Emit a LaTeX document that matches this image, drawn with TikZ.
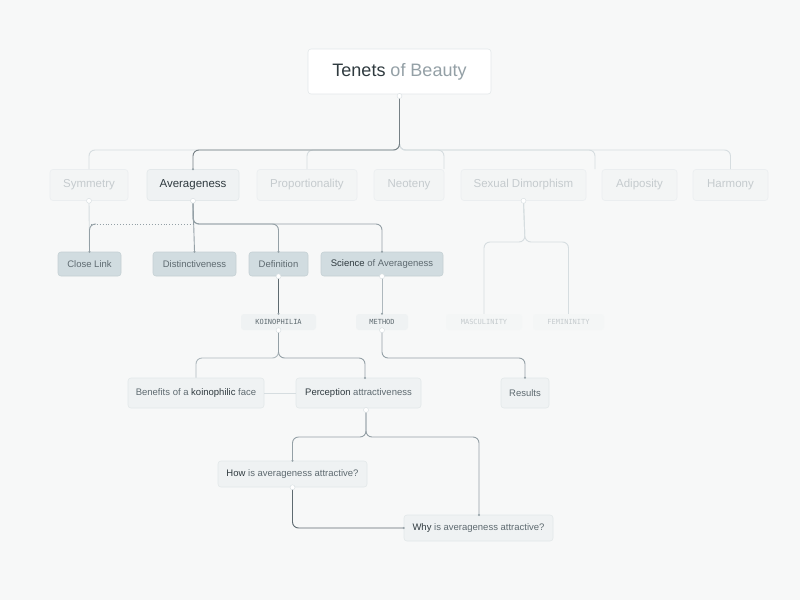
\documentclass[tikz,border=0pt]{standalone}
\usepackage{fontspec}
\setmainfont{Liberation Sans}
\newfontfamily\monof{DejaVu Sans Mono}
\begin{document}
\definecolor{bg}{HTML}{F7F8F8}
\definecolor{tx}{HTML}{2F3A3F}
\definecolor{ft}{HTML}{C5CBCE}
\definecolor{mid}{HTML}{5E6A70}
\definecolor{lnk}{HTML}{94A0A6}
\definecolor{lnl}{HTML}{D6DDE0}
\definecolor{nf}{HTML}{EFF2F3}
\definecolor{df}{HTML}{D1DCE0}
\definecolor{bd}{HTML}{E3E8EA}
\begin{tikzpicture}[x=1pt,y=-1pt,
 box/.style={draw=bd,line width=0.6pt,rounded corners=3pt,fill=nf,minimum height=31pt,inner xsep=0pt,font=\fontsize{11.5}{13}\selectfont,text=tx},
 fbox/.style={box,fill=bg!50!nf,draw=bd!60!bg,text=ft},
 dbox/.style={box,fill=df,draw=df!80!lnk,minimum height=24pt,font=\fontsize{9.5}{11}\selectfont,text=mid},
 tag/.style={rounded corners=3pt,fill=nf,minimum height=16pt,inner xsep=0pt,font=\monof\fontsize{7}{8}\selectfont,text=mid},
 ftag/.style={tag,fill=bg!60!nf,text=ft},
 lbox/.style={box,minimum height=30pt,font=\fontsize{9.5}{11}\selectfont,text=mid},
 ln/.style={draw=lnk,line width=0.9pt,rounded corners=6pt},
 lnf/.style={draw=lnl,line width=0.9pt,rounded corners=6pt},
 hd/.style={circle,draw=lnl,fill=white,inner sep=0pt,minimum size=5pt},
 dt/.style={circle,fill=lnk,inner sep=0pt,minimum size=2.2pt}]
\fill[bg] (0,0) rectangle (800,600);
\useasboundingbox (0,0) rectangle (800,600);
% title
\node[box,fill=white,draw=bd,minimum width=183pt,minimum height=45pt,font=\fontsize{18}{21}\selectfont] (t) at (399.5,71.5) {Tenets {\color{lnk}of Beauty}};
% level 1
\node[fbox,minimum width=78pt] (sym) at (89,185) {Symmetry};
\node[box,minimum width=92pt] (avg) at (193,185) {Averageness};
\node[fbox,minimum width=100pt] (pro) at (307,185) {Proportionality};
\node[fbox,minimum width=70pt] (neo) at (409,185) {Neoteny};
\node[fbox,minimum width=125pt] (sex) at (523.5,185) {Sexual Dimorphism};
\node[fbox,minimum width=75pt] (adi) at (639.5,185) {Adiposity};
\node[fbox,minimum width=75pt] (har) at (730.5,185) {Harmony};
% level 2
\node[dbox,minimum width=63pt] (cl) at (89.5,264) {Close Link};
\node[dbox,minimum width=83pt] (dis) at (194.5,264) {Distinctiveness};
\node[dbox,minimum width=59pt] (def) at (278.5,264) {Definition};
\node[dbox,minimum width=122pt] (sci) at (382,264) {{\color{tx}Science} of Averageness};
% tags
\node[tag,minimum width=75pt] (koi) at (278.5,322) {KOINOPHILIA};
\node[tag,minimum width=52pt] (met) at (382,322) {METHOD};
\node[ftag,minimum width=76pt] (mas) at (484,322) {MASCULINITY};
\node[ftag,minimum width=71pt] (fem) at (568.5,322) {FEMININITY};
% level 4
\node[lbox,minimum width=136pt] (ben) at (196,393) {Benefits of a {\color{tx}koinophilic} face};
\node[lbox,minimum width=125pt] (per) at (358.5,393) {{\color{tx}Perception} attractiveness};
\node[lbox,minimum width=48pt] (res) at (525,393) {Results};
\node[lbox,minimum width=149pt,minimum height=26pt] (how) at (292.5,474) {{\color{tx}How} is averageness attractive?};
\node[lbox,minimum width=149pt,minimum height=26pt] (why) at (478.5,528) {{\color{tx}Why} is averageness attractive?};
\coordinate (tb) at (399.5,96);
\coordinate (pin) at (365,378);
\coordinate (win) at (479,515);
\coordinate (pout) at (366,410);
% connectors level 1
\draw[lnf] (tb) -- (399.5,150) -| (sym.north);
\draw[lnf] (tb) -- (399.5,150) -| (pro.north);
\draw[lnf] (tb) -- (399.5,150) -| (444,169);
\draw[lnf] (tb) -- (399.5,150) -| (595,169);
\draw[lnf] (tb) -- (399.5,150) -| (har.north);
\draw[ln,draw=lnk!80!black] (tb) -- (399.5,150) -| (avg.north);
% level 2
\draw[lnf] (sym.south) -- (cl.north);
\draw[ln,dotted,rounded corners=0pt] (91,224) -- (193,224);
\draw[ln] (avg.south) -- (193,224) -| (def.north);
\draw[ln] (avg.south) -- (193,224) -| (sci.north);
\draw[ln] (avg.south) -- (dis.north);
\draw[ln] (96,224) -- (89.5,224) -- (cl.north);
% sexual dimorphism
\draw[lnf] (sex.south) -- (525,242) -| (mas.north);
\draw[lnf] (sex.south) -- (525,242) -| (fem.north);
% tags
\draw[ln,draw=mid] (def.south) -- (koi.north);
\draw[lnf,draw=lnk!60!lnl] (sci.south) -- (met.north);
\draw[lnf,draw=lnk!60!lnl] (koi.south) -- (278.5,358) -| (ben.north);
\draw[ln] (koi.south) -- (278.5,358) -| (pin);
\draw[ln] (met.south) |- (525,358) -- (res.north);
\draw[lnf,rounded corners=0pt] (ben.east) -- (per.west);
% perception
\draw[ln] (pout) -- (366,437) -| (how.north);
\draw[ln] (pout) -- (366,437) -| (win);
\draw[ln,draw=mid] (how.south) |- (why.west);
% handles and dots
\foreach \p in {tb,sym.south,avg.south,sex.south,def.south,sci.south,koi.south,met.south,how.south,pout}
 \node[hd] at (\p) {};
\foreach \p in {avg.north,cl.north,dis.north,def.north,sci.north,koi.north,met.north,res.north,how.north,why.west,pin,win}
 \node[dt] at (\p) {};
\end{tikzpicture}
\end{document}
